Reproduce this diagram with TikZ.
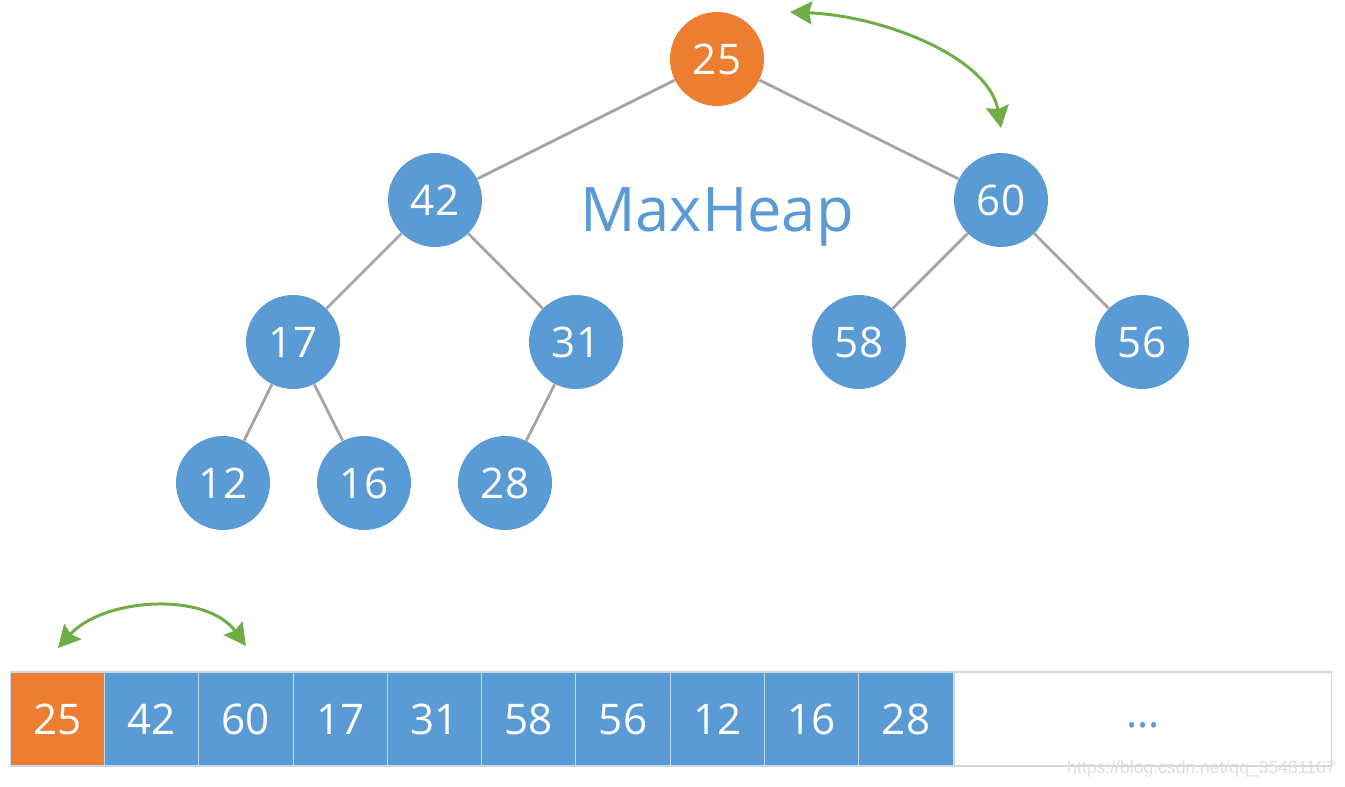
\documentclass[tikz,border=0pt]{standalone}
\usepackage{fontspec}
\setmainfont{Open Sans}
\newfontfamily\markfont{Liberation Sans}
\usetikzlibrary{positioning,arrows.meta}
\definecolor{heapBlue}{HTML}{5B9BD5}
\definecolor{heapOrange}{HTML}{ED7D31}
\definecolor{swapGreen}{HTML}{70AD47}
\definecolor{edgeGray}{HTML}{A5A5A5}
\definecolor{cellLine}{HTML}{C5D9EE}
\definecolor{boxGray}{HTML}{D6D6D6}
\tikzset{
  keynode/.style={circle, fill=heapBlue, minimum size=1.88cm, inner sep=0pt,
    text=white, font=\fontsize{24}{24}\selectfont},
  rootnode/.style={keynode, fill=heapOrange},
  cellnode/.style={rectangle, fill=heapBlue, draw=cellLine, line width=0.6pt,
    minimum width=1.886cm, minimum height=1.88cm, inner sep=0pt,
    text=white, font=\fontsize{24}{24}\selectfont},
  treeedge/.style={draw=edgeGray, line width=1.6pt},
  swaparrow/.style={draw=swapGreen, line width=1.7pt,
    {Stealth[length=0.44cm,width=0.46cm,inset=0.06cm]}-{Stealth[length=0.44cm,width=0.46cm,inset=0.06cm]}}
}
\begin{document}
\begin{tikzpicture}[x=0.02cm, y=-0.02cm]
  \fill[white] (0,0) rectangle (1345,787);
  \useasboundingbox (0,0) rectangle (1345,787);

  % heap as a tree
  \node[rootnode] (n25) at (717,59) {25};
  \node[keynode] (n42) at (435,200) {42};
  \node[keynode] (n60) at (1001,200) {60};
  \node[keynode] (n17) at (293,342) {17};
  \node[keynode] (n31) at (576,342) {31};
  \node[keynode] (n58) at (859,342) {58};
  \node[keynode] (n56) at (1142,342) {56};
  \node[keynode] (n12) at (223,483) {12};
  \node[keynode] (n16) at (364,483) {16};
  \node[keynode] (n28) at (505,483) {28};
  \foreach \a/\b in {n25/n42, n25/n60, n42/n17, n42/n31, n60/n58, n60/n56,
                     n17/n12, n17/n16, n31/n28}
    \path[treeedge] (\a) -- (\b);

  \node[text=heapBlue, font=\fontsize{35}{35}\selectfont] (title) at (717,217) {MaxHeap};

  % heap as an array
  \foreach \v [count=\i from 0] in {25,42,60,17,31,58,56,12,16,28}
    \node[cellnode] (c\i) at ({57.3+94.3*\i},719) {\v};
  \node[cellnode, fill=heapOrange] at (c0) {25};
  \node[rectangle, draw=boxGray, fill=white, line width=0.8pt, minimum width=7.54cm,
        minimum height=1.88cm, anchor=west] (rest) at (c9.east) {};
  \node[text=heapBlue, font=\fontsize{24}{24}\selectfont] (dots) at ([yshift=-0.12cm]rest.center) {...};

  % swaps
  \coordinate (topL) at (790,12);
  \coordinate (topR) at (1001,128);
  \draw[swaparrow] (topL) .. controls +(95,4) and +(-12,-70) .. (topR);
  \coordinate (lowL) at (58,648);
  \coordinate (lowR) at (246,646);
  \draw[swaparrow] (lowL) .. controls +(45,-50) and +(-40,-55) .. (lowR);

  \node[anchor=south east, inner sep=0pt, text=black!13,
        font=\markfont\fontsize{10}{10}\selectfont] (mark) at (1336,777)
        {https://blog.csdn.net/qq\_35481167};
\end{tikzpicture}
\end{document}
